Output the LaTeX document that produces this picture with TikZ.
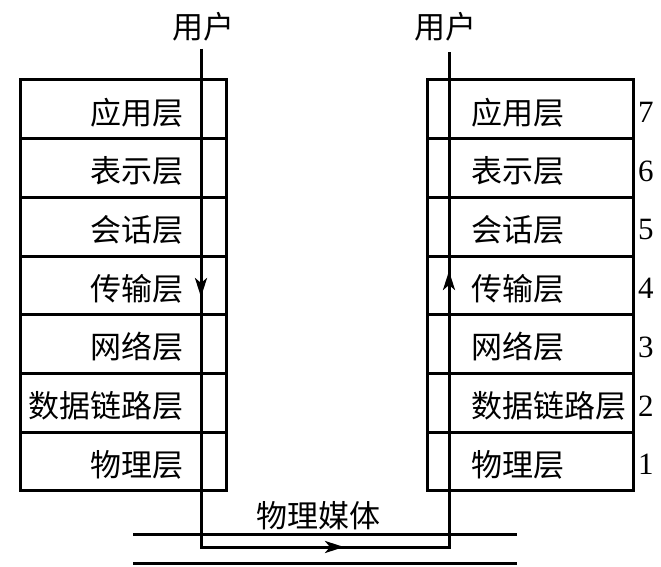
\documentclass[tikz,border=0pt]{standalone}
\usepackage{fontspec}
\setmainfont{Liberation Serif}
\newfontfamily\cjk{Noto Sans CJK SC}
\usetikzlibrary{positioning,arrows.meta}
\tikzset{
	layer/.style={draw, line width=3pt, outer sep=0pt, minimum width=206pt, minimum height=58.7pt, inner sep=0pt},
	cn/.style={inner sep=0pt, font=\cjk\fontsize{31}{37}\selectfont},
	row/.style={cn, yshift=-3pt},
	num/.style={inner sep=0pt, font=\fontsize{31}{37}\selectfont, yshift=-3pt},
	wire/.style={line width=3pt},
	tip/.style={-{Stealth[length=19pt,width=12pt,inset=5pt]}}
}
\begin{document}
\begin{tikzpicture}[x=1pt,y=-1pt]
		\useasboundingbox (0,0) rectangle (661,567);

		% left stack
		\node[layer] (l7) at (123,109.35) {};
		\node[layer, below=0pt of l7] (l6) {};
		\node[layer, below=0pt of l6] (l5) {};
		\node[layer, below=0pt of l5] (l4) {};
		\node[layer, below=0pt of l4] (l3) {};
		\node[layer, below=0pt of l3] (l2) {};
		\node[layer, below=0pt of l2] (l1) {};

		% right stack
		\node[layer] (r7) at (530,109.35) {};
		\node[layer, below=0pt of r7] (r6) {};
		\node[layer, below=0pt of r6] (r5) {};
		\node[layer, below=0pt of r5] (r4) {};
		\node[layer, below=0pt of r4] (r3) {};
		\node[layer, below=0pt of r3] (r2) {};
		\node[layer, below=0pt of r2] (r1) {};

		% labels
		\node[row, left=42pt of l7.east] (lt7) {应用层};
		\node[row, left=42pt of l6.east] (lt6) {表示层};
		\node[row, left=42pt of l5.east] (lt5) {会话层};
		\node[row, left=42pt of l4.east] (lt4) {传输层};
		\node[row, left=42pt of l3.east] (lt3) {网络层};
		\node[row, left=42pt of l2.east] (lt2) {数据链路层};
		\node[row, left=42pt of l1.east] (lt1) {物理层};

		\node[row, right=44pt of r7.west] (rt7) {应用层};
		\node[row, right=44pt of r6.west] (rt6) {表示层};
		\node[row, right=44pt of r5.west] (rt5) {会话层};
		\node[row, right=44pt of r4.west] (rt4) {传输层};
		\node[row, right=44pt of r3.west] (rt3) {网络层};
		\node[row, right=44pt of r2.west] (rt2) {数据链路层};
		\node[row, right=44pt of r1.west] (rt1) {物理层};

		\node[num, right=5pt of r7.east] (n7) {7};
		\node[num, right=5pt of r6.east] (n6) {6};
		\node[num, right=5pt of r5.east] (n5) {5};
		\node[num, right=5pt of r4.east] (n4) {4};
		\node[num, right=5pt of r3.east] (n3) {3};
		\node[num, right=5pt of r2.east] (n2) {2};
		\node[num, right=5pt of r1.east] (n1) {1};

		\node[cn] (u1) at (203,27) {用户};
		\node[cn] (u2) at (445,27) {用户};
		\node[cn] (media) at (318,516) {物理媒体};

		% path of data
		\coordinate (s1) at (201,49);
		\coordinate (b1) at (201,547);
		\coordinate (b2) at (449,547);
		\coordinate (s2) at (449,52);
		\coordinate (a1) at (201,297);
		\coordinate (a2) at (344,547);
		\coordinate (a3) at (449,271);
		\draw[wire] (s1) -- (b1) -- (b2) -- (s2);
		\draw[wire, tip] (s1) -- (a1);
		\draw[wire, tip] (b1) -- (a2);
		\draw[wire, tip] (b2) -- (a3);

		% medium
		\coordinate (m1) at (133,534);
		\coordinate (m2) at (517,534);
		\coordinate (m3) at (133,563);
		\coordinate (m4) at (517,563);
		\draw[wire] (m1) -- (m2);
		\draw[wire] (m3) -- (m4);
	\end{tikzpicture}
\end{document}
